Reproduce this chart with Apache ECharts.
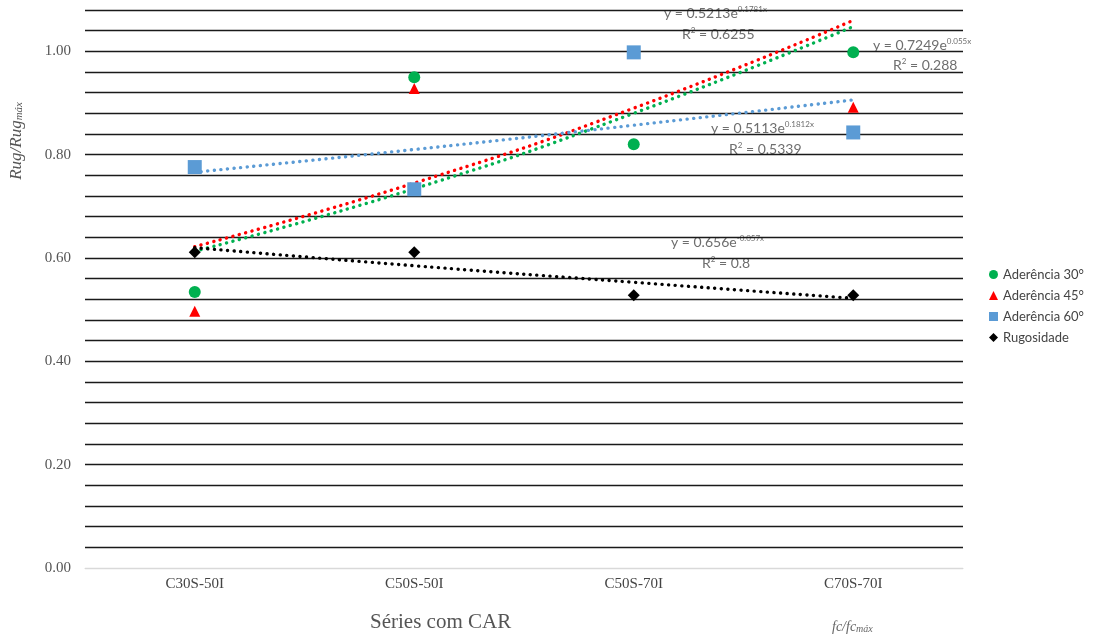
<!DOCTYPE html>
<html>
<head>
<meta charset="utf-8">
<script src="https://cdn.jsdelivr.net/npm/echarts@6/dist/echarts.min.js"></script>
<style>
  html, body { margin: 0; padding: 0; background: #fff; }
  #chart { width: 1108px; height: 644px; }
</style>
</head>
<body>
<div id="chart"></div>
<script>
// Categories (series of concrete with CAR)
const categories = ['C30S-50I', 'C50S-50I', 'C50S-70I', 'C70S-70I'];

// Measured ratios
const aderencia30 = [0.534, 0.950, 0.820, 0.998];
const aderencia45 = [0.497, 0.928, null, 0.892];
const aderencia60 = [0.776, 0.733, 0.998, 0.843];
const rugosidade  = [0.611, 0.611, 0.528, 0.528];

// Exponential trendlines evaluated at each category
const trend30  = [0.613, 0.734, 0.880, 1.048];
const trend45  = [0.622, 0.745, 0.890, 1.060];
const trend60  = [0.766, 0.810, 0.857, 0.906];
const trendRug = [0.620, 0.585, 0.553, 0.522];

// Y axis tick labels (every fifth gridline)
const yTickLabels = ['0.00', '0.20', '0.40', '0.60', '0.80', '1.00'];

const colors = { a30: '#00b050', a45: '#ff0000', a60: '#5b9bd5', rug: '#000000' };

const chart = echarts.init(document.getElementById('chart'));

// Gridline colours: baseline light grey, the rest dark
const gridColors = [];
for (let i = 0; i < 28; i++) gridColors.push(i === 0 ? '#d9d9d9' : '#1a1a1a');

function trendSeries(name, data, color) {
  return {
    name: name,
    type: 'line',
    data: data,
    smooth: true,
    symbol: 'none',
    silent: true,
    z: 2,
    lineStyle: { color: color, width: 3.4, type: [0.1, 6.5], cap: 'round' }
  };
}

function pointSeries(name, data, symbol, size, color, z) {
  return {
    name: name,
    type: 'line',
    data: data,
    symbol: symbol,
    symbolSize: size,
    lineStyle: { width: 0, opacity: 0 },
    itemStyle: { color: color },
    z: z
  };
}

const eqFont = 'Lato, "Open Sans", sans-serif';
const richEq = {
  b: { fill: '#6e6e6e', fontFamily: eqFont, fontSize: 14 },
  s: { fill: '#6e6e6e', fontFamily: eqFont, fontSize: 8, verticalAlign: 'top', padding: [0, 0, 9, 0] }
};

function eqText(x, y, base, exp) {
  return {
    type: 'text',
    left: x, top: y,
    style: { text: '{b|' + base + '}{s|' + exp + '}', rich: richEq }
  };
}

function r2Text(x, y, val) {
  return {
    type: 'text',
    left: x, top: y,
    style: { text: '{b|R}{s|2}{b| = ' + val + '}', rich: richEq }
  };
}

chart.setOption({
  animation: false,
  backgroundColor: '#ffffff',
  grid: { left: 85, right: 145, top: 10, bottom: 76 },
  xAxis: {
    type: 'category',
    data: categories,
    boundaryGap: true,
    axisLine: { show: true, lineStyle: { color: '#d9d9d9', width: 1 } },
    axisTick: { show: false },
    axisLabel: {
      color: '#444',
      fontFamily: '"Liberation Serif", "DejaVu Serif", serif',
      fontSize: 15,
      margin: 9
    },
    splitLine: { show: false }
  },
  yAxis: {
    type: 'value',
    min: 0,
    max: 1.08,
    interval: 0.04,
    axisLine: { show: false },
    axisTick: { show: false },
    axisLabel: {
      color: '#555',
      fontFamily: '"Liberation Serif", "DejaVu Serif", serif',
      fontSize: 15,
      margin: 14,
      formatter: function (v) {
        const k = Math.round(v * 100);
        if (k % 20 !== 0) return '';
        return yTickLabels[k / 20] || '';
      }
    },
    splitLine: { show: true, lineStyle: { color: gridColors, width: 1.3 } }
  },
  legend: {
    orient: 'vertical',
    left: 984,
    top: 263,
    itemGap: 8,
    itemWidth: 9,
    itemHeight: 9,
    textStyle: { color: '#444', fontFamily: eqFont, fontSize: 13 },
    data: [
      { name: 'Aderência 30°', icon: 'circle' },
      { name: 'Aderência 45°', icon: 'triangle' },
      { name: 'Aderência 60°', icon: 'rect' },
      { name: 'Rugosidade', icon: 'diamond' }
    ]
  },
  series: [
    trendSeries('trend30', trend30, colors.a30),
    trendSeries('trend45', trend45, colors.a45),
    trendSeries('trend60', trend60, colors.a60),
    trendSeries('trendRug', trendRug, colors.rug),
    pointSeries('Aderência 45°', aderencia45, 'triangle', 11, colors.a45, 5),
    pointSeries('Aderência 30°', aderencia30, 'circle', 12, colors.a30, 6),
    pointSeries('Aderência 60°', aderencia60, 'rect', 14, colors.a60, 6),
    pointSeries('Rugosidade', rugosidade, 'diamond', 12, colors.rug, 6)
  ],
  graphic: [
    eqText(664, 5, 'y = 0.5213e', '0.1781x'),
    r2Text(682, 26, '0.6255'),
    eqText(873, 37, 'y = 0.7249e', '0.055x'),
    r2Text(893, 57, '0.288'),
    eqText(711, 120, 'y = 0.5113e', '0.1812x'),
    r2Text(729, 141, '0.5339'),
    eqText(671, 234, 'y = 0.656e', '-0.057x'),
    r2Text(702, 255, '0.8'),
    {
      type: 'text',
      left: 370, top: 612,
      style: {
        text: 'Séries com CAR',
        fill: '#555',
        fontFamily: '"Liberation Serif", "DejaVu Serif", serif',
        fontSize: 21
      }
    },
    {
      type: 'text',
      left: 832, top: 620,
      style: {
        text: '{a|fc/fc}{b|máx}',
        rich: {
          a: { fill: '#666', fontFamily: '"Liberation Serif", serif', fontStyle: 'italic', fontSize: 14 },
          b: { fill: '#666', fontFamily: '"Liberation Serif", serif', fontStyle: 'italic', fontSize: 10, verticalAlign: 'bottom', padding: [5, 0, 0, 0] }
        }
      }
    },
    {
      type: 'text',
      left: 8, top: 102,
      rotation: Math.PI / 2,
      originX: 0, originY: 0,
      style: {
        text: '{a|Rug/Rug}{b|máx}',
        rich: {
          a: { fill: '#555', fontFamily: '"Liberation Serif", serif', fontStyle: 'italic', fontSize: 17 },
          b: { fill: '#555', fontFamily: '"Liberation Serif", serif', fontStyle: 'italic', fontSize: 11, verticalAlign: 'bottom', padding: [6, 0, 0, 0] }
        }
      }
    }
  ]
});
</script>
</body>
</html>
